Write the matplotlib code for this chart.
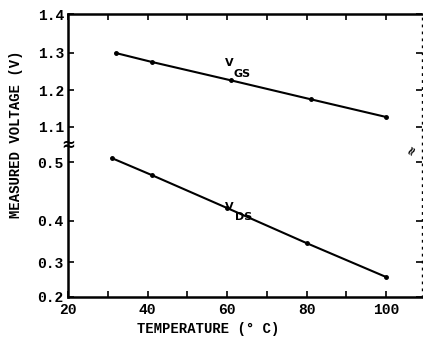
import numpy as np
import matplotlib
matplotlib.use("Agg")
import matplotlib.pyplot as plt

# readings
temp_gs = [32, 41, 61, 81, 100]
v_gs = [1.300, 1.276, 1.226, 1.175, 1.127]
temp_ds = [31, 41, 60, 80, 100]
v_ds = [0.514, 0.478, 0.422, 0.346, 0.257]

x_ticks = [20, 40, 60, 80, 100]
y_ticks = [0.2, 0.3, 0.4, 0.5, 1.1, 1.2, 1.3, 1.4]
y_labels = ["0.2", "0.3", "0.4", "0.5", "1.1", "1.2", "1.3", "1.4"]

# the printed axis is broken between 0.5 and 1.1 and its lower part is not evenly spaced,
# so map values to the drawn heights piecewise
knot_vals = np.array([0.2, 0.3, 0.4, 0.5, 0.55, 1.05, 1.1, 1.2, 1.3, 1.4])
knot_pos = np.array([42, 77, 118, 177, 191, 193, 212, 249, 286, 325], dtype=float)


def fwd(v):
    return np.interp(v, knot_vals, knot_pos)


def inv(p):
    return np.interp(p, knot_pos, knot_vals)


mono = "Liberation Mono"

fig = plt.figure(figsize=(4.23, 3.39), dpi=100)
ax = fig.add_axes([68 / 423, 42 / 339, 354 / 423, 283 / 339])
ax.set_yscale("function", functions=(fwd, inv))

ax.plot(temp_gs, v_gs, color="black", lw=1.5, marker="o", ms=2.5)
ax.plot(temp_ds, v_ds, color="black", lw=1.5, marker="o", ms=2.5)

ax.set_xlim(20, 109)
ax.set_ylim(0.2, 1.4)
ax.set_xticks(x_ticks)
ax.set_xticks(range(30, 101, 10), minor=True)
ax.set_yticks(y_ticks)
ax.set_yticklabels(y_labels)
ax.yaxis.set_minor_locator(matplotlib.ticker.NullLocator())
ax.tick_params(which="both", direction="in", top=True, right=True, length=4, width=1.2,
               labelsize=10.5)
ax.tick_params(axis="x", pad=4)
ax.tick_params(axis="y", pad=3)
for lab in ax.get_xticklabels() + ax.get_yticklabels():
    lab.set_family(mono)
    lab.set_weight("bold")

for side in ["left", "bottom", "top"]:
    ax.spines[side].set_linewidth(1.8)
ax.spines["right"].set_linewidth(1.0)
ax.spines["right"].set_linestyle((0, (1, 4)))

# break marks
ax.text(0.0, 0.537, "≈", ha="center", va="center", fontsize=12, weight="bold",
        transform=ax.transAxes, family="DejaVu Sans", clip_on=False)
ax.text(0.972, 0.519, "≈", rotation=60, ha="center", va="center", fontsize=9,
        weight="bold", transform=ax.transAxes, family="DejaVu Sans")

ax.text(59.5, 1.273, "V", fontsize=8, family="DejaVu Sans", weight="bold", ha="left",
        va="center")
ax.text(61.6, 1.243, "GS", fontsize=8, family="DejaVu Sans", weight="bold", ha="left",
        va="center")
ax.text(59.5, 0.424, "V", fontsize=8, family="DejaVu Sans", weight="bold", ha="left",
        va="center")
ax.text(62.0, 0.407, "DS", fontsize=8, family="DejaVu Sans", weight="bold", ha="left",
        va="center")

ax.set_xlabel("TEMPERATURE (° C)", fontsize=10, family=mono, weight="bold")
ax.set_ylabel("MEASURED VOLTAGE (V)", fontsize=10, family=mono, weight="bold")
ax.xaxis.set_label_coords(0.395, -0.088)
ax.yaxis.set_label_coords(-0.127, 0.576)

fig.savefig("out.png", dpi=100)
